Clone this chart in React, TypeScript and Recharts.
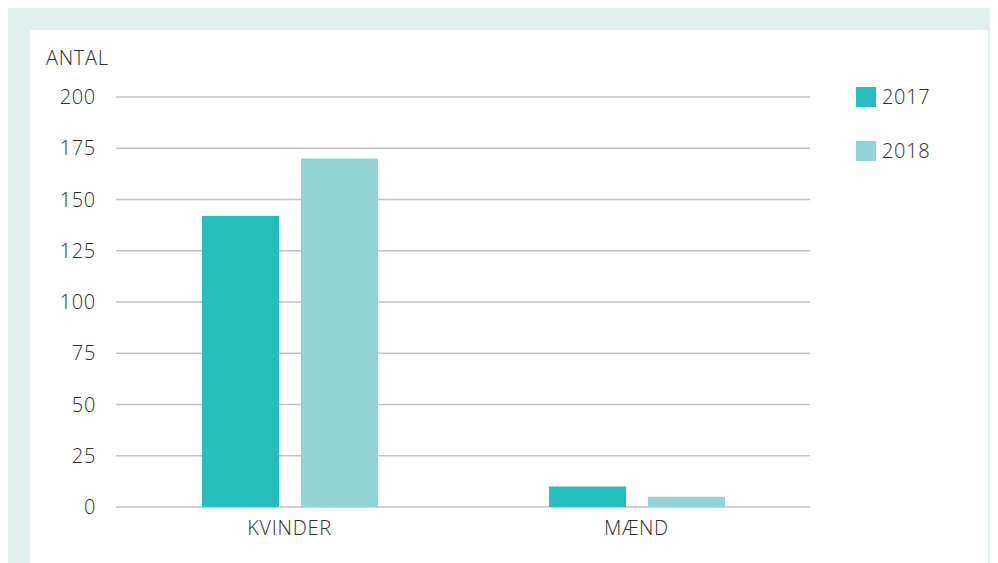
import React from 'react';
import { BarChart, Bar, XAxis, YAxis, CartesianGrid } from 'recharts';

const categories = ['KVINDER', 'MÆND'];
const values2017 = [142, 10];
const values2018 = [170, 5];
const yTicks = [0, 25, 50, 75, 100, 125, 150, 175, 200];
const seriesLabels = ['2017', '2018'];

const data = categories.map((c, i) => ({ name: c, y2017: values2017[i], y2018: values2018[i] }));

const FONT = '"Open Sans", sans-serif';
const WEIGHT = 300;
const TEXT = '#2e2e2e';
const LS = 0.7;
const C2017 = '#26bdbd';
const C2018 = '#92d4d4';
const colors = [C2017, C2018];

export default function App() {
  return (
    <div style={{ width: 990, height: 560, background: '#dff0ef', paddingLeft: 22, paddingTop: 22, boxSizing: 'border-box', overflow: 'hidden' }}>
      <div style={{ position: 'relative', width: 958, height: 540, background: '#ffffff' }}>
        <div style={{ position: 'absolute', left: 16, top: 16, fontFamily: FONT, fontWeight: WEIGHT, fontSize: 20, color: TEXT, lineHeight: '24px', letterSpacing: LS }}>ANTAL</div>
        <div style={{ position: 'absolute', left: 826, top: 57, fontFamily: FONT, fontWeight: WEIGHT, fontSize: 20, color: TEXT, letterSpacing: LS }}>
          {seriesLabels.map((label, i) => (
            <div key={label} style={{ display: 'flex', alignItems: 'center', height: 20, marginBottom: i === 0 ? 34 : 0 }}>
              <div style={{ width: 20, height: 20, background: colors[i], marginRight: 6 }} />
              <span style={{ lineHeight: '20px' }}>{label}</span>
            </div>
          ))}
        </div>
        <BarChart
          width={958}
          height={533}
          data={data}
          margin={{ top: 67, right: 178, bottom: 26, left: 0 }}
          barSize={77}
          barGap={22}
        >
          <CartesianGrid horizontal vertical={false} stroke="#c2c2c2" strokeWidth={1.5} />
          <XAxis
            dataKey="name"
            axisLine={false}
            tickLine={false}
            tickSize={0}
            tickMargin={14}
            height={30}
            tick={{ fontFamily: FONT, fontWeight: WEIGHT, fontSize: 20, fill: TEXT, letterSpacing: LS }}
          />
          <YAxis
            domain={[0, 200]}
            ticks={yTicks}
            axisLine={false}
            tickLine={false}
            tickSize={0}
            tickMargin={20}
            width={86}
            interval={0}
            tick={{ fontFamily: FONT, fontWeight: WEIGHT, fontSize: 20, fill: TEXT, letterSpacing: LS }}
          />
          <Bar dataKey="y2017" fill={C2017} isAnimationActive={false} />
          <Bar dataKey="y2018" fill={C2018} isAnimationActive={false} />
        </BarChart>
      </div>
    </div>
  );
}
